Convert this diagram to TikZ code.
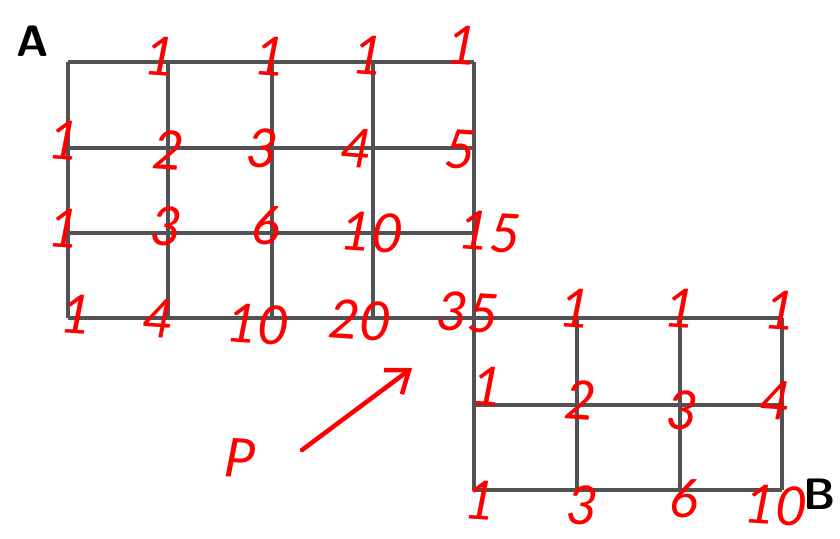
\documentclass[tikz,border=0pt]{standalone}
\usepackage{fontspec}
\setmainfont{Lato}
\usetikzlibrary{arrows.meta}
\tikzset{
  gridline/.style={draw=black!68, line width=3.4pt},
  hand/.style={text=red, font=\fontsize{54}{54}\selectfont\itshape, inner sep=0pt, rotate=-4},
  corner/.style={font=\fontsize{44}{44}\selectfont\sffamily\bfseries, inner sep=0pt},
  redarrow/.style={draw=red, line width=4.5pt, line cap=round, -{Straight Barb[length=20pt,width=30pt,line width=4.5pt]}}
}
\begin{document}
\begin{tikzpicture}[x=1pt,y=-1pt]
\useasboundingbox (0,0) rectangle (840,538);
% grid A
\foreach \x in {68,168,272,373,474} \draw[gridline] (\x,62) -- (\x,318);
\foreach \y in {62,148,233,318} \draw[gridline] (68,\y) -- (474,\y);
% grid B
\foreach \x in {474,577,680,782} \draw[gridline] (\x,318) -- (\x,490);
\foreach \y in {318,405,490} \draw[gridline] (474,\y) -- (782,\y);
% letters
\node[corner] (lA) at (33,41) {A};
\node[corner] (lB) at (820,494) {B};
% grid A numbers
\node[hand] (a01) at (160,56) {1};
\node[hand] (a02) at (270,56) {1};
\node[hand] (a03) at (368,55) {1};
\node[hand] (a04) at (462,45) {1};
\node[hand] (a10) at (64,140) {1};
\node[hand] (a11) at (168,150) {2};
\node[hand] (a12) at (262,148) {3};
\node[hand] (a13) at (356,148) {4};
\node[hand] (a14) at (460,150) {5};
\node[hand] (a20) at (64,228) {1};
\node[hand] (a21) at (166,226) {3};
\node[hand] (a22) at (266,225) {6};
\node[hand] (a23) at (372,232) {10};
\node[hand] (a24) at (490,232) {15};
\node[hand] (a30) at (76,314) {1};
\node[hand] (a31) at (158,318) {4};
\node[hand] (a32) at (258,324) {10};
\node[hand] (a33) at (360,320) {20};
\node[hand] (a34) at (468,312) {35};
% grid B numbers
\node[hand] (b01) at (575,308) {1};
\node[hand] (b02) at (680,308) {1};
\node[hand] (b03) at (780,310) {1};
\node[hand] (b10) at (487,386) {1};
\node[hand] (b11) at (580,400) {2};
\node[hand] (b12) at (682,410) {3};
\node[hand] (b13) at (775,400) {4};
\node[hand] (b20) at (480,500) {1};
\node[hand] (b21) at (582,505) {3};
\node[hand] (b22) at (684,498) {6};
\node[hand] (b23) at (776,505) {10};
% P and arrow
\node[hand] (P) at (240,458) {P};
\coordinate (arS) at (302,450);
\coordinate (arE) at (412,368);
\draw[redarrow] (arS) -- (arE);
\end{tikzpicture}
\end{document}
